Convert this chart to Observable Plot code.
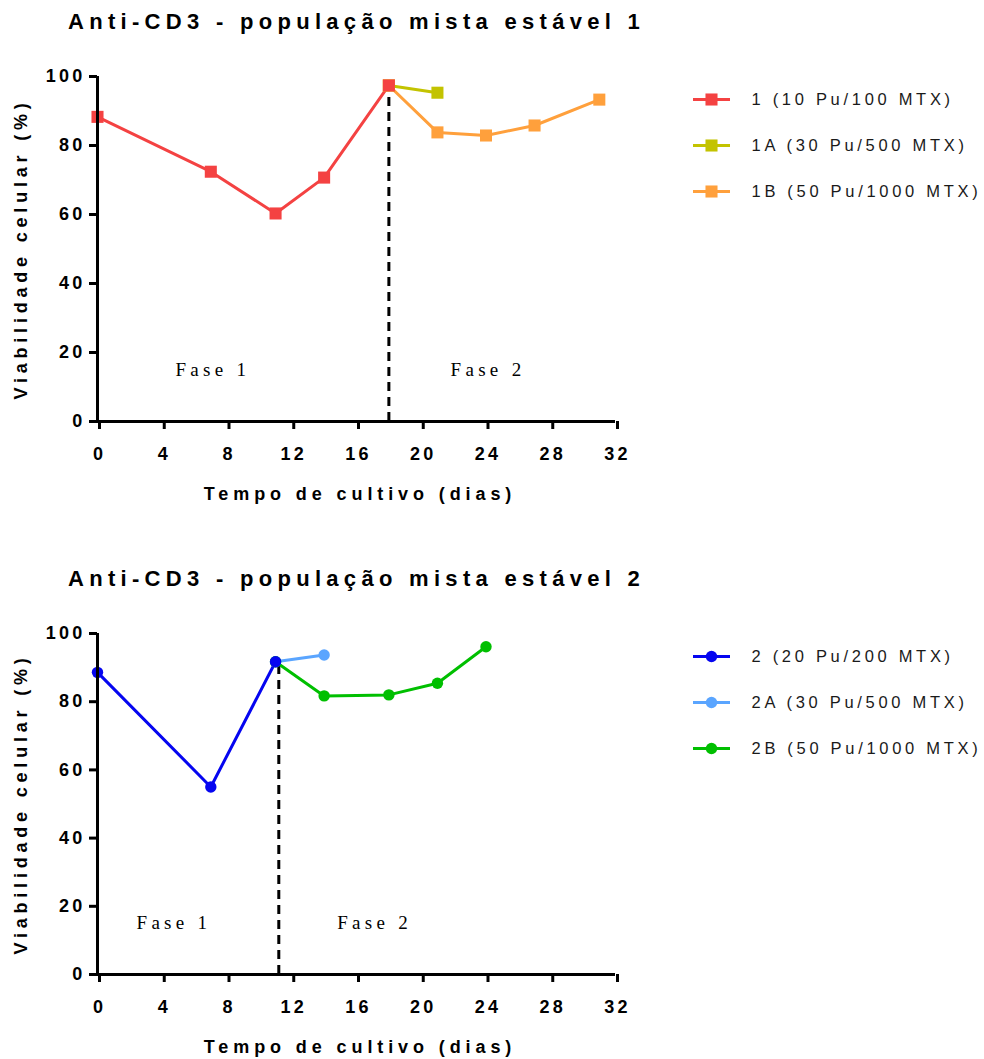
<!DOCTYPE html>
<html><head><meta charset="utf-8">
<script src="https://cdn.jsdelivr.net/npm/d3@7"></script>
<script src="https://cdn.jsdelivr.net/npm/@observablehq/plot@0.6"></script>
<style>
body{margin:0;background:#fff;font-family:"Liberation Sans",Arial,sans-serif;}
#root{position:relative;width:984px;height:1059px;overflow:hidden;background:#fff;}
.chart{position:absolute;left:0;width:984px;height:520px;}
.abs{position:absolute;white-space:nowrap;line-height:1;color:#000;}
.title{font-weight:bold;font-size:22px;letter-spacing:5.3px;}
.ylab{font-weight:bold;font-size:18px;letter-spacing:4.8px;transform:translate(-50%,-50%) rotate(-90deg);}
.xlab{font-weight:bold;font-size:18px;letter-spacing:4.9px;transform:translate(-50%,-50%);}
svg{overflow:visible;}
</style></head>
<body><div id="root"></div>
<script>
// ---- Data ----
const xTicks = [0, 4, 8, 12, 16, 20, 24, 28, 32];
const yTicks = [0, 20, 40, 60, 80, 100];

const title1 = "Anti-CD3 - população mista estável 1";
const names1 = ["1 (10 Pu/100 MTX)", "1A (30 Pu/500 MTX)", "1B (50 Pu/1000 MTX)"];
const colors1 = ["#F44242", "#C3C300", "#FFA03C"];
const days1 = [0, 7, 11, 14, 18];
const viab1 = [88.3, 72.4, 60.3, 70.7, 97.4];
const days1A = [18, 21];
const viab1A = [97.4, 95.3];
const days1B = [18, 21, 24, 27, 31];
const viab1B = [97.4, 83.8, 82.9, 85.8, 93.3];
const phaseSplit1 = 18;

const title2 = "Anti-CD3 - população mista estável 2";
const names2 = ["2 (20 Pu/200 MTX)", "2A (30 Pu/500 MTX)", "2B (50 Pu/1000 MTX)"];
const colors2 = ["#0505F0", "#5AA5FF", "#00BF00"];
const days2 = [0, 7, 11];
const viab2 = [88.6, 55.0, 91.7];
const days2A = [11, 14];
const viab2A = [91.7, 93.7];
const days2B = [11, 14, 18, 21, 24];
const viab2B = [91.7, 81.7, 82.0, 85.4, 96.1];
const phaseSplit2 = 11.2;

const phaseLabels = ["Fase 1", "Fase 2"];
const phaseX1 = [7, 24];
const phaseX2 = [4.6, 17];
const phaseY = [15, 15];

const xLabel = "Tempo de cultivo (dias)";
const yLabel = "Viabilidade celular (%)";

// ---- Build ----
function toRows(xs, ys) { return xs.map((x, i) => ({x, y: ys[i]})); }

function makeChart(cfg) {
  const {top, plotBottom, title, names, colors, series, split, splitTop, phaseXs, symbol, r} = cfg;
  const root = document.getElementById("root");
  const box = document.createElement("div");
  box.className = "chart";
  box.style.top = top + "px";
  root.appendChild(box);

  const H = 520;
  const marks = [];
  marks.push(Plot.ruleX([split], {y1: 0, y2: splitTop, stroke: "#000", strokeWidth: 3, strokeDasharray: "9,6"}));
  const order = [1, 2, 0];
  for (const i of order) {
    marks.push(Plot.line(series[i], {x: "x", y: "y", stroke: colors[i], strokeWidth: 3}));
  }
  for (const i of order) {
    marks.push(Plot.dot(series[i], {x: "x", y: "y", fill: colors[i], stroke: "none", symbol, r}));
  }
  const phases = phaseLabels.map((t, i) => ({t, x: phaseXs[i], y: phaseY[i]}));
  marks.push(Plot.text(phases, {x: "x", y: "y", text: "t", fontFamily: "Liberation Serif", fontSize: 19, fill: "#000", dx: 2}));
  marks.push(Plot.ruleY([0], {stroke: "#000", strokeWidth: 3}));
  marks.push(Plot.ruleX([0], {y1: 0, y2: 100, stroke: "#000", strokeWidth: 3}));
  marks.push(Plot.axisX({ticks: xTicks, tickSize: 8, strokeWidth: 3, tickPadding: 18, fontSize: 18, fontWeight: "bold", label: null, dx: 2}));
  marks.push(Plot.axisY({ticks: yTicks, tickSize: 8, strokeWidth: 3, tickPadding: 4, fontSize: 18, fontWeight: "bold", label: null}));

  const svg = Plot.plot({
    width: 660, height: H,
    marginLeft: 97, marginRight: 45, marginTop: 76, marginBottom: H - plotBottom,
    x: {domain: [0, 32]},
    y: {domain: [0, 100]},
    style: {fontFamily: "Liberation Sans, Arial, sans-serif", color: "#000", background: "transparent"},
    marks
  });
  d3.select(svg).selectAll('g[aria-label="x-axis tick label"] text, g[aria-label="y-axis tick label"] text').attr("letter-spacing", "3.2px");
  d3.select(svg).selectAll('g[aria-label="text"] text').attr("letter-spacing", "4.3px");
  svg.style.position = "absolute"; svg.style.left = "0px"; svg.style.top = "0px";
  box.appendChild(svg);

  // legend (separate small Plot)
  const legMarks = [];
  names.forEach((n, i) => {
    legMarks.push(Plot.ruleY([n], {x1: 13, x2: 50, stroke: colors[i], strokeWidth: 3}));
    legMarks.push(Plot.dot([n], {x: () => 31, y: d => d, fill: colors[i], stroke: "none", symbol, r}));
    legMarks.push(Plot.text([n], {x: () => 71, y: d => d, text: d => d, textAnchor: "start", fontSize: 16.5, fill: "#1a1a1a"}));
  });
  const leg = Plot.plot({
    width: 304, height: 220, margin: 0,
    x: {domain: [0, 304], range: [0, 304], axis: null},
    y: {type: "point", domain: names, range: [98, 191], padding: 0, axis: null},
    style: {fontFamily: "Liberation Sans, Arial, sans-serif", background: "transparent"},
    marks: legMarks
  });
  d3.select(leg).selectAll('g[aria-label="text"] text').attr("letter-spacing", "3.7px");
  leg.style.position = "absolute"; leg.style.left = "680px"; leg.style.top = "0px";
  box.appendChild(leg);

  const t = document.createElement("div");
  t.className = "abs title"; t.textContent = title;
  t.style.left = "68px"; t.style.top = "11px";
  box.appendChild(t);

  const yl = document.createElement("div");
  yl.className = "abs ylab"; yl.textContent = yLabel;
  yl.style.left = "21px"; yl.style.top = ((76 + plotBottom) / 2) + "px";
  box.appendChild(yl);

  const xl = document.createElement("div");
  xl.className = "abs xlab"; xl.textContent = xLabel;
  xl.style.left = "360px"; xl.style.top = (plotBottom + 73) + "px";
  box.appendChild(xl);
}

makeChart({
  top: 0, plotBottom: 421, title: title1, names: names1, colors: colors1,
  series: [toRows(days1, viab1), toRows(days1A, viab1A), toRows(days1B, viab1B)],
  split: phaseSplit1, splitTop: 97.4, phaseXs: phaseX1, symbol: "square", r: 6.8
});
makeChart({
  top: 557, plotBottom: 417, title: title2, names: names2, colors: colors2,
  series: [toRows(days2, viab2), toRows(days2A, viab2A), toRows(days2B, viab2B)],
  split: phaseSplit2, splitTop: 91.7, phaseXs: phaseX2, symbol: "circle", r: 5.7
});
</script></body></html>
